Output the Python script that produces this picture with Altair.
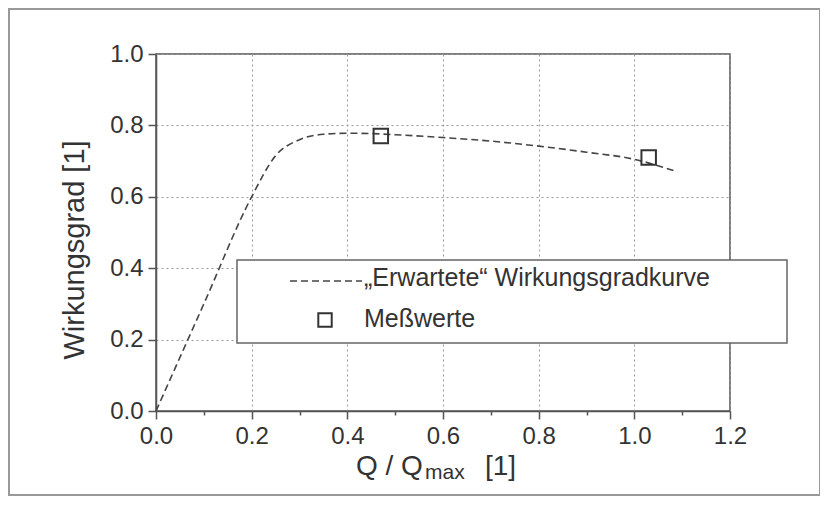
import altair as alt
import pandas as pd

# ---- data ----
curve_x = [0.0, 0.1, 0.2, 0.25, 0.3, 0.35, 0.4, 0.45, 0.5, 0.6, 0.7, 0.8, 0.9, 1.0, 1.09]
curve_y = [0.0, 0.30, 0.60, 0.715, 0.760, 0.775, 0.778, 0.777, 0.774, 0.766, 0.756, 0.742, 0.725, 0.705, 0.670]
meas_x = [0.47, 1.03]
meas_y = [0.77, 0.71]
x_ticks = [0.0, 0.1, 0.2, 0.3, 0.4, 0.5, 0.6, 0.7, 0.8, 0.9, 1.0, 1.1, 1.2]
y_ticks = [0.0, 0.1, 0.2, 0.3, 0.4, 0.5, 0.6, 0.7, 0.8, 0.9, 1.0]
legend_line_label = "\u201eErwartete\u201c Wirkungsgradkurve"
legend_point_label = "Meßwerte"
x_title_parts = ["Q / Q", "max", "[1]"]
y_title = "Wirkungsgrad [1]"

FONT = "Liberation Sans"
DARK = "#333333"
W, H = 574, 357

curve_df = pd.DataFrame({"x": curve_x, "y": curve_y})
meas_df = pd.DataFrame({"x": meas_x, "y": meas_y})

major = "round(datum.value*10) % 2 == 0"

def axis(vals):
    return alt.Axis(
        values=vals,
        title=None,
        labelExpr=f"{major} ? format(datum.value, '.1f') : ''",
        labelFont=FONT,
        labelFontSize=24,
        labelColor=DARK,
        labelFlush=False,
        labelOverlap=False,
        tickSize={"condition": {"test": major, "value": 8}, "value": 4},
        tickColor="#555555",
        tickWidth=1.5,
        domainColor="#555555",
        domainWidth=1.5,
        grid=True,
        gridColor="#999999",
        gridDash=[2, 3],
        gridWidth=1,
        gridOpacity={"condition": {"test": major, "value": 1}, "value": 0},
        labelPadding=5,
    )

xenc = alt.X("x:Q", scale=alt.Scale(domain=[0, 1.2], nice=False, zero=False), axis=axis(x_ticks))
yenc = alt.Y("y:Q", scale=alt.Scale(domain=[0, 1.0], nice=False), axis=axis(y_ticks))

one = pd.DataFrame({"d": [0]})

outer = alt.Chart(one).mark_rect(fill=None, stroke="#999999", strokeWidth=2).encode(
    x=alt.value(-147), x2=alt.value(664), y=alt.value(-45), y2=alt.value(441)
)

line = alt.Chart(curve_df).mark_line(
    color="#444444", strokeWidth=1.6, strokeDash=[7, 4], interpolate="monotone"
).encode(x=xenc, y=yenc)

points = alt.Chart(meas_df).mark_point(
    shape="square", size=210, filled=False, color="#333333", strokeWidth=2, opacity=1
).encode(x=alt.X("x:Q"), y=alt.Y("y:Q"))

leg_box = alt.Chart(one).mark_rect(fill="white", stroke="#666666", strokeWidth=1.5).encode(
    x=alt.value(81), x2=alt.value(631), y=alt.value(206), y2=alt.value(289)
)
leg_line = alt.Chart(one).mark_rule(color="#444444", strokeWidth=1.6, strokeDash=[7, 4]).encode(
    x=alt.value(134), x2=alt.value(206), y=alt.value(227)
)
leg_pt = alt.Chart(one).mark_point(
    shape="square", size=180, filled=False, color="#333333", strokeWidth=2, opacity=1
).encode(x=alt.value(169), y=alt.value(266))

leg_txt = alt.Chart(pd.DataFrame({"t": [legend_line_label, legend_point_label]}).assign(
    py=[232, 273])).mark_text(
    align="left", baseline="alphabetic", font=FONT, fontSize=25, color=DARK
).encode(x=alt.value(208), y=alt.Y("py:Q", scale=None), text="t:N")

ytitle = alt.Chart(one).mark_text(
    text=y_title, angle=270, align="center", baseline="alphabetic",
    font=FONT, fontSize=29, color=DARK
).encode(x=alt.value(-72), y=alt.value(196))

xt1 = alt.Chart(one).mark_text(
    text=x_title_parts[0], align="left", baseline="alphabetic", font=FONT, fontSize=28, color=DARK
).encode(x=alt.value(200), y=alt.value(421))
xt2 = alt.Chart(one).mark_text(
    text=x_title_parts[1], align="left", baseline="alphabetic", font=FONT, fontSize=21, color=DARK
).encode(x=alt.value(269), y=alt.value(425))
xt3 = alt.Chart(one).mark_text(
    text=x_title_parts[2], align="left", baseline="alphabetic", font=FONT, fontSize=28, color=DARK
).encode(x=alt.value(329), y=alt.value(421))

chart = alt.layer(
    outer, line, points, leg_box, leg_line, leg_pt, leg_txt, ytitle, xt1, xt2, xt3
).properties(
    width=W, height=H,
    autosize=alt.AutoSizeParams(type="none"),
    padding={"left": 148, "top": 46, "right": 90, "bottom": 87},
    background="white",
).configure_view(stroke="#555555", strokeWidth=1.5)

chart.save("out.html", embed_options={"renderer": "svg", "actions": False})
